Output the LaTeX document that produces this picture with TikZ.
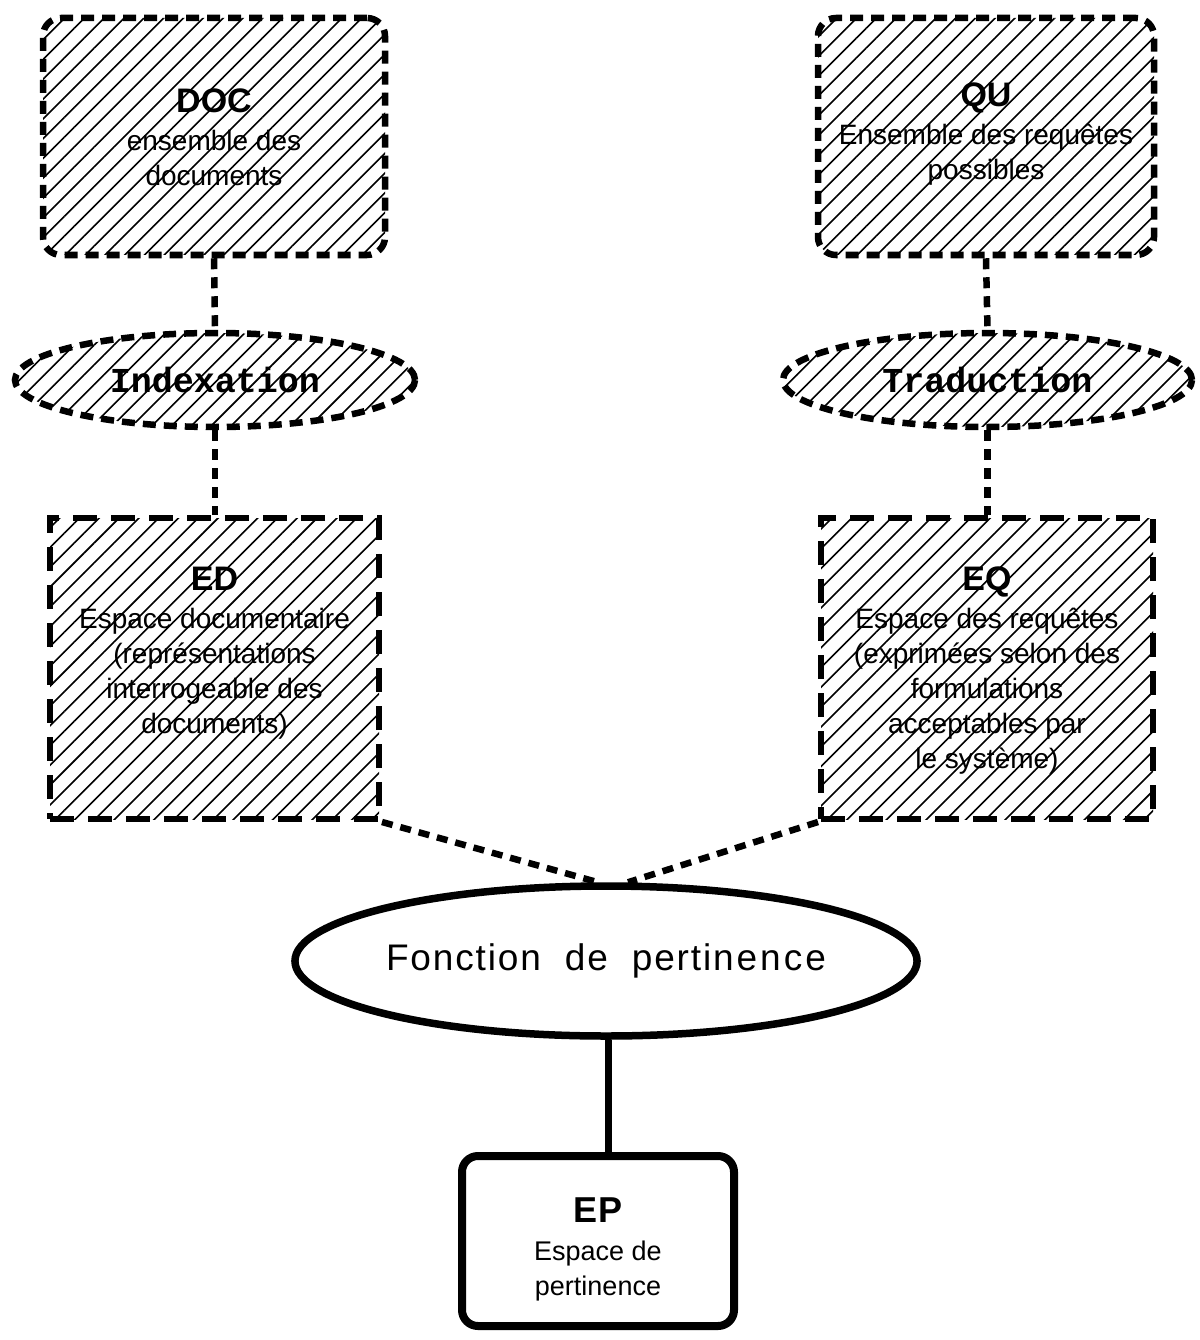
\documentclass[tikz,border=0pt]{standalone}
\usepackage{fontspec}
\setmainfont{Liberation Sans}
\newfontfamily\slabfont{Liberation Mono}
\usetikzlibrary{shapes.geometric,patterns.meta,calc}

% diagonal hatching, always solid whatever the border dashes are
\pgfdeclarepattern{
  name=hatchlines,
  type=uncolored,
  bottom left={\pgfpoint{-.1pt}{-.1pt}},
  top right={\pgfpoint{14.1pt}{14.1pt}},
  tile size={\pgfpoint{14pt}{14pt}},
  tile transformation={\pgftransformrotate{45}},
  code={
    \pgfsetdash{}{0pt}
    \pgfsetlinewidth{1.6pt}
    \pgfpathmoveto{\pgfpoint{-.1pt}{7pt}}
    \pgfpathlineto{\pgfpoint{14.1pt}{7pt}}
    \pgfusepathqstroke
  }
}

\begin{document}
\begin{tikzpicture}[x=1pt,y=-1pt,
  hatch/.style={pattern=hatchlines, pattern color=black},
  dashedge/.style={line width=6.5pt, dash pattern=on 13pt off 8pt},
  longdash/.style={line width=6pt, dash pattern=on 24pt off 14pt},
  roundbox/.style={draw, hatch, dashedge, rectangle, rounded corners=18pt, inner sep=0pt},
  squarebox/.style={draw, hatch, longdash, rectangle, inner sep=0pt},
  procell/.style={draw, hatch, dashedge, ellipse, inner sep=0pt,
    font=\slabfont\bfseries\fontsize{35}{35}\selectfont},
  link/.style={line width=6.5pt, dash pattern=on 11pt off 8pt},
  boxtext/.style={align=center, inner sep=0pt, font=\fontsize{28}{35}\selectfont},
]
\useasboundingbox (0,0) rectangle (1199,1340);
\newcommand{\ttl}[1]{{\fontsize{34}{35}\selectfont\bfseries #1}\\[3pt]}

% upper row: sets
\node[roundbox, minimum width=342pt, minimum height=237pt] (doc) at (214,136.5) {};
\node[boxtext] (doctext) at (214,137) {\ttl{DOC}ensemble des\\documents};

\node[roundbox, minimum width=336pt, minimum height=237pt] (qu) at (986,136.5) {};
\node[boxtext] (qutext) at (986,134) {\ttl{QU}Ensemble des requêtes\\possibles};

% processes
\node[procell, minimum width=400pt, minimum height=94pt] (idx) at (215,380) {Indexation};
\node[procell, minimum width=409pt, minimum height=94pt] (tra) at (987.5,380) {Traduction};

% representation spaces
\node[squarebox, minimum width=329pt, minimum height=301pt] (ed) at (214.5,668.5) {};
\node[boxtext] (edtext) at (214.5,653) {\ttl{ED}Espace documentaire\\(représentations\\interrogeable des\\documents)};

\node[squarebox, minimum width=332pt, minimum height=301pt] (eq) at (987,668.5) {};
\node[boxtext] (eqtext) at (987,671) {\ttl{EQ}Espace des requêtes\\(exprimées selon des\\formulations\\acceptables par\\le système)};

% matching function and result
\node[draw, ellipse, line width=7.5pt, minimum width=598pt, minimum height=150pt, inner sep=0pt,
  font=\fontsize{37}{37}\selectfont\addfontfeature{LetterSpace=5}] (fp) at (606,961)
  {Fonction\hspace{24pt}de\hspace{24pt}pertin\hspace{3pt}e\hspace{3pt}n\hspace{3pt}c\hspace{3pt}e};

\node[draw, rectangle, rounded corners=16pt, line width=8pt, minimum width=272pt, minimum height=170pt] (ep) at (598,1241) {};
\node[boxtext, font=\fontsize{27}{35}\selectfont] (eptext) at (598,1249) {{\fontsize{36}{35}\selectfont\bfseries EP}\\[3pt]Espace de\\pertinence};

% connectors
\coordinate (fpl) at ($(fp.north)+(-8,0)$);
\coordinate (fpr) at ($(fp.north)+(22,0)$);
\coordinate (fpb) at ($(fp.south)+(2,0)$);
\draw[link] (doc.south) -- (idx.north);
\draw[link] (idx.south) -- (idx.south |- ed.north);
\draw[link] (qu.south) -- (tra.north);
\draw[link] (tra.south) -- (tra.south |- eq.north);
\draw[link] (ed.south east) -- (fpl);
\draw[link] (eq.south west) -- (fpr);
\draw[line width=7pt] (fpb) -- (fpb |- ep.north);
\end{tikzpicture}
\end{document}
